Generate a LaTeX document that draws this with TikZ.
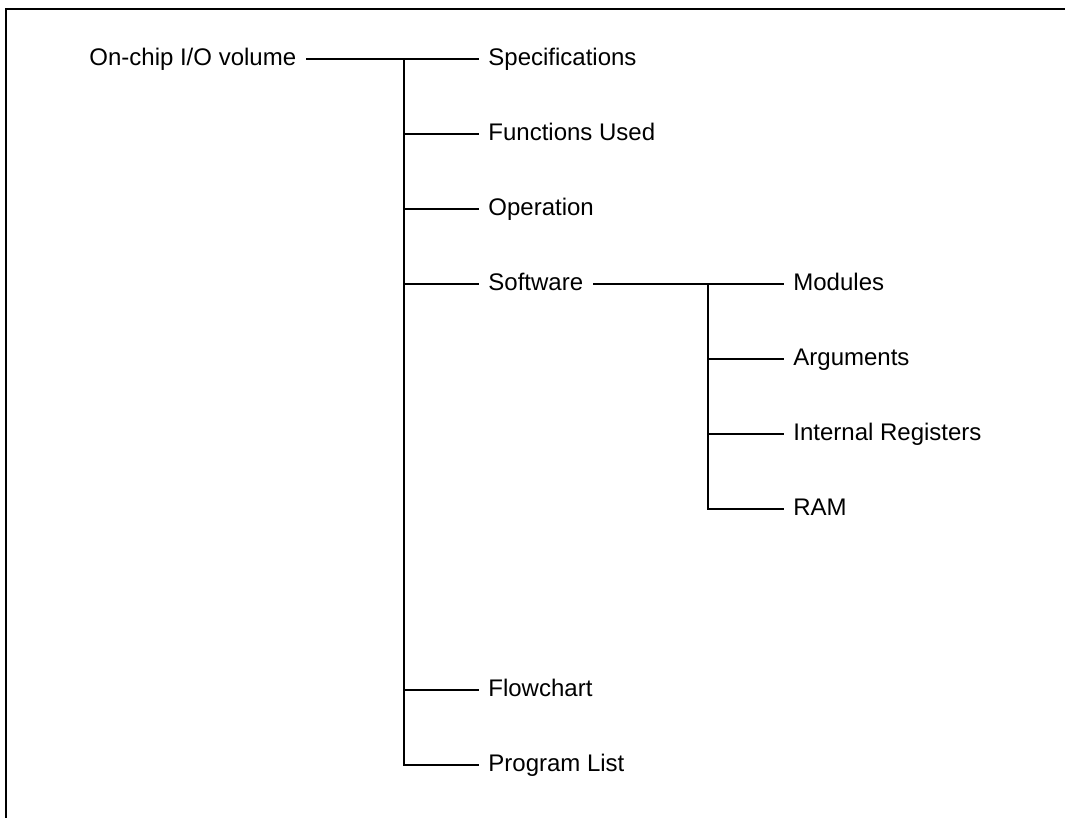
\documentclass[tikz,border=0pt]{standalone}
\usepackage{fontspec}
\setmainfont{Liberation Sans}
\begin{document}
\begin{tikzpicture}[x=0.5pt,y=-0.5pt,
  lbl/.style={anchor=west,inner xsep=5pt,inner ysep=0pt,
    font=\fontsize{12}{14}\selectfont,text height=0.72em,text depth=0.06em},
  wire/.style={line width=1pt,line cap=rect},
  frameline/.style={line width=1pt}]
\useasboundingbox (0,0) rectangle (1065,818);
\draw[frameline] (6,818) -- (6,9) -- (1065,9);
% root and first level
\node[lbl] (root) at (79,59) {On-chip I/O volume};
\node[lbl] (spec) at (478,59) {Specifications};
\node[lbl] (func) at (478,134) {Functions Used};
\node[lbl] (oper) at (478,209) {Operation};
\node[lbl] (soft) at (478,284) {Software};
\node[lbl] (flow) at (478,690) {Flowchart};
\node[lbl] (prog) at (478,765) {Program List};
% second level
\node[lbl] (modu) at (783,284) {Modules};
\node[lbl] (argu) at (783,359) {Arguments};
\node[lbl] (intr) at (783,434) {Internal Registers};
\node[lbl] (ramn) at (783,509) {RAM};
\coordinate (j1) at (404,59);
\coordinate (j2) at (708,284);
\draw[wire] (root.east) -- (spec.west);
\draw[wire] (j1) |- (prog.west);
\foreach \n in {func,oper,soft,flow} \draw[wire] (j1 |- \n.west) -- (\n.west);
\draw[wire] (soft.east) -- (modu.west);
\draw[wire] (j2) |- (ramn.west);
\foreach \n in {argu,intr} \draw[wire] (j2 |- \n.west) -- (\n.west);
\end{tikzpicture}
\end{document}
